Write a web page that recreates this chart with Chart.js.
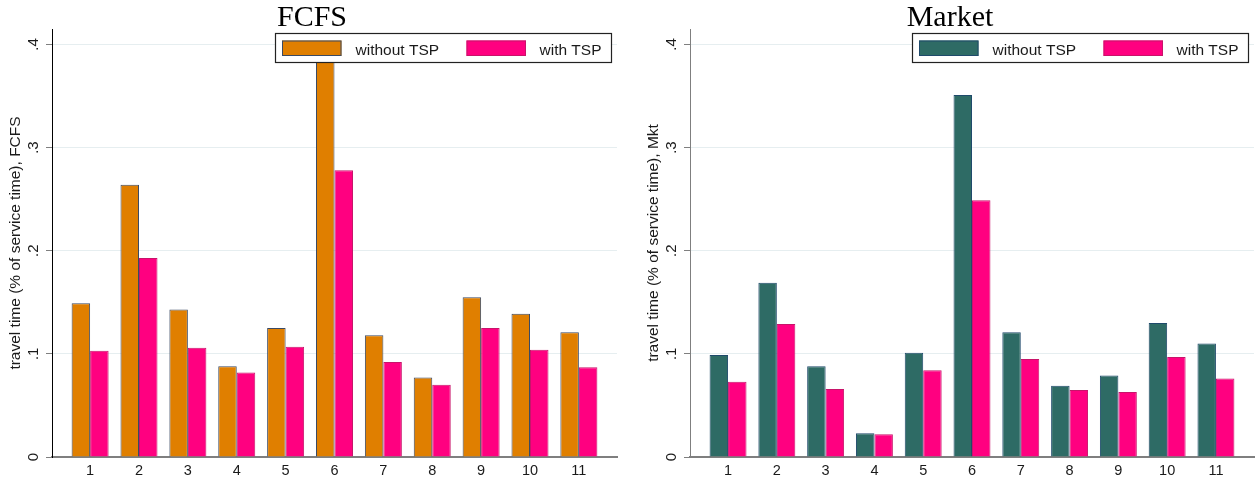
<!DOCTYPE html>
<html>
<head>
<meta charset="utf-8">
<script src="https://cdn.jsdelivr.net/npm/chart.js@4/dist/chart.umd.min.js"></script>
<style>
  html, body { margin: 0; padding: 0; background: #fff; }
  #wrap { position: relative; width: 1256px; height: 483px; overflow: hidden; }
  canvas { position: absolute; top: 0; }
  #cLeft { left: 0; }
  #cRight { left: 628px; }
</style>
</head>
<body>
<div id="wrap">
  <canvas id="cLeft" width="628" height="483"></canvas>
  <canvas id="cRight" width="628" height="483"></canvas>
</div>
<script>
// Route numbers along the x axis
const categories = ['1', '2', '3', '4', '5', '6', '7', '8', '9', '10', '11'];

// Travel time as a share of service time, first-come-first-served
const fcfsWithoutTSP = [0.149, 0.264, 0.143, 0.088, 0.125, 0.400, 0.118, 0.077, 0.155, 0.139, 0.121];
const fcfsWithTSP    = [0.103, 0.193, 0.106, 0.082, 0.107, 0.278, 0.092, 0.070, 0.125, 0.104, 0.087];

// Travel time as a share of service time, market mechanism
const mktWithoutTSP = [0.099, 0.169, 0.088, 0.023, 0.101, 0.351, 0.121, 0.069, 0.079, 0.130, 0.110];
const mktWithTSP    = [0.073, 0.129, 0.066, 0.022, 0.084, 0.249, 0.095, 0.065, 0.063, 0.097, 0.076];

// Y axis ticks and their printed labels
const yTickValues = [0, 0.1, 0.2, 0.3, 0.4];
const yTickLabels = ['0', '.1', '.2', '.3', '.4'];

const seriesNames = ['without TSP', 'with TSP'];

const SANS = "'Liberation Sans', Arial, Helvetica, sans-serif";
const SERIF = "'Liberation Serif', 'Times New Roman', serif";

const COL = {
  orange: '#e07f00', orangeEdge: '#3b4a63',
  green: '#2e6b65', greenEdge: '#1f4a6b',
  pink: '#ff0080', pinkEdge: '#c8146a',
  grid: '#e6eef0', axis: '#7f7f7f', text: '#1a1a1a'
};

// Draws the rotated y tick labels, the axis title, the panel title and the legend
const panelDecor = {
  id: 'panelDecor',
  afterDatasetsDraw(chart) {
    const o = chart.options.plugins.panelDecor;
    const { ctx, chartArea } = chart;
    const ys = chart.scales.y;
    ctx.save();

    // y tick labels, read bottom to top
    ctx.fillStyle = COL.text;
    ctx.font = '15px ' + SANS;
    ctx.textAlign = 'center';
    ctx.textBaseline = 'middle';
    yTickValues.forEach((v, i) => {
      const py = ys.getPixelForValue(v);
      ctx.save();
      ctx.translate(chartArea.left - 18, py);
      ctx.rotate(-Math.PI / 2);
      ctx.fillText(yTickLabels[i], 0, 0);
      ctx.restore();
    });

    // y axis title
    ctx.save();
    ctx.translate(chartArea.left - 36, (chartArea.top + chartArea.bottom) / 2);
    ctx.rotate(-Math.PI / 2);
    ctx.font = '15.5px ' + SANS;
    ctx.fillText(o.yTitle, 0, 0);
    ctx.restore();

    // panel title
    ctx.font = '30px ' + SERIF;
    ctx.textAlign = 'center';
    ctx.textBaseline = 'alphabetic';
    ctx.fillStyle = '#000';
    ctx.fillText(o.title, o.titleX, 26);

    // legend box in the upper right of the plot
    const bw = 336, bh = 29;
    const bx = chartArea.right - 5.5 - bw;
    const by = chartArea.top + 4.5;
    ctx.fillStyle = '#fff';
    ctx.fillRect(bx, by, bw, bh);
    ctx.strokeStyle = '#222';
    ctx.lineWidth = 1.2;
    ctx.strokeRect(bx, by, bw, bh);

    const swOffsets = [6.5, 191];
    const txOffsets = [80, 264];
    chart.data.datasets.forEach((ds, i) => {
      const sx = bx + swOffsets[i];
      const sy = by + 7;
      ctx.fillStyle = ds.backgroundColor;
      ctx.fillRect(sx, sy, 59.5, 15.5);
      ctx.strokeStyle = ds.borderColor;
      ctx.lineWidth = 1;
      ctx.strokeRect(sx + 0.5, sy + 0.5, 58.5, 14.5);
      ctx.fillStyle = COL.text;
      ctx.font = '15.5px ' + SANS;
      ctx.textAlign = 'left';
      ctx.textBaseline = 'alphabetic';
      ctx.fillText(ds.label, bx + txOffsets[i], by + 21);
    });

    ctx.restore();
  }
};

function makePanel(canvasId, withoutVals, withVals, mainColor, mainEdge, cfg) {
  const toPoints = vals => vals.map((v, i) => ({ x: i + 1, y: v }));
  return new Chart(document.getElementById(canvasId), {
    type: 'bar',
    data: {
      datasets: [
        {
          label: seriesNames[0],
          data: toPoints(withoutVals),
          backgroundColor: mainColor,
          borderColor: mainEdge,
          borderWidth: 1
        },
        {
          label: seriesNames[1],
          data: toPoints(withVals),
          backgroundColor: COL.pink,
          borderColor: COL.pinkEdge,
          borderWidth: 1
        }
      ]
    },
    options: {
      responsive: false,
      animation: false,
      devicePixelRatio: 1,
      layout: { padding: { top: 29, right: cfg.padRight, left: 0, bottom: 0 } },
      datasets: {
        bar: { categoryPercentage: 0.757, barPercentage: 1.0, grouped: true }
      },
      plugins: {
        legend: { display: false },
        title: { display: false },
        tooltip: { enabled: false },
        panelDecor: { title: cfg.title, titleX: cfg.titleX, yTitle: cfg.yTitle }
      },
      scales: {
        x: {
          type: 'linear',
          offset: false,
          min: 0.22,
          max: 11.78,
          afterBuildTicks: s => { s.ticks = categories.map((c, i) => ({ value: i + 1 })); },
          afterFit: s => { s.height = 26; },
          grid: { display: false, drawTicks: false },
          border: { display: true, color: COL.axis, width: 2 },
          ticks: {
            autoSkip: false,
            maxRotation: 0,
            padding: 5,
            color: COL.text,
            font: { family: SANS, size: 14.5 },
            callback: v => categories[v - 1]
          }
        },
        y: {
          min: 0,
          max: 0.415,
          afterBuildTicks: s => { s.ticks = yTickValues.map(v => ({ value: v })); },
          afterFit: s => { s.width = cfg.yWidth; },
          grid: {
            color: ctx => (ctx.tick && ctx.tick.value === 0 ? 'rgba(0,0,0,0)' : COL.grid),
            lineWidth: 1,
            drawTicks: true,
            tickLength: 6,
            tickColor: COL.axis,
            tickWidth: 1
          },
          border: { display: true, color: cfg.yAxisColor, width: 1 },
          ticks: { display: false }
        }
      }
    },
    plugins: [panelDecor]
  });
}

makePanel('cLeft', fcfsWithoutTSP, fcfsWithTSP, COL.orange, COL.orangeEdge, {
  title: 'FCFS', titleX: 312, yTitle: 'travel time (% of service time), FCFS',
  yWidth: 52, padRight: 11, yAxisColor: '#000'
});

makePanel('cRight', mktWithoutTSP, mktWithTSP, COL.green, COL.greenEdge, {
  title: 'Market', titleX: 322, yTitle: 'travel time (% of service time), Mkt',
  yWidth: 62, padRight: 2, yAxisColor: COL.axis
});
</script>
</body>
</html>
